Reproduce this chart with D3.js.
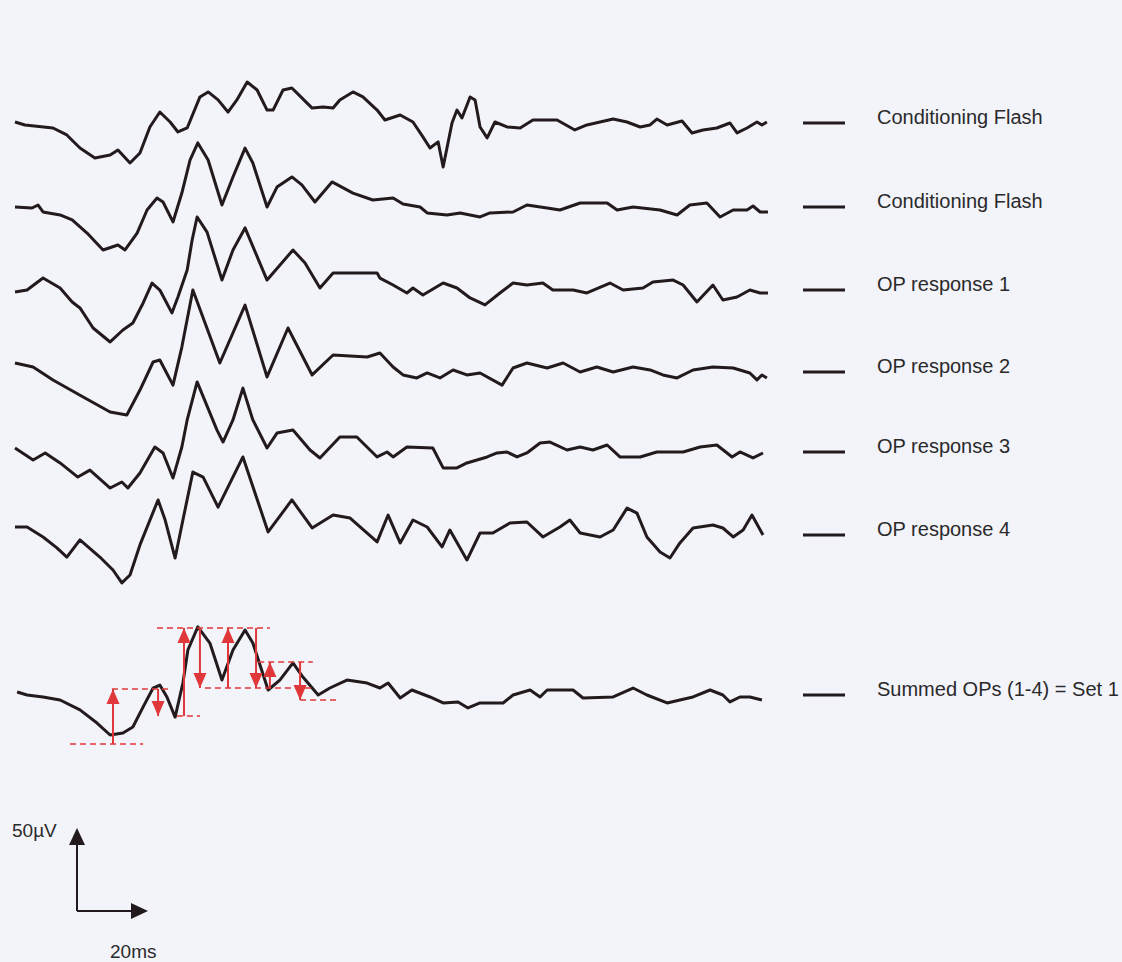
<!DOCTYPE html>
<html>
<head>
<meta charset="utf-8">
<script src="https://cdn.jsdelivr.net/npm/d3@7"></script>
<style>
  html, body { margin: 0; padding: 0; background: #f3f3fa; }
  svg { display: block; }
</style>
</head>
<body>
<div id="chart"></div>
<script>
// traces: [time (ms), amplitude (µV)] relative to each row's baseline
const condFlash1 = [
  [0, 0], [2.8, -1.8], [10.7, -3.6], [14.6, -7.8], [18.3, -15.7], [22.5, -21.7], [26.8, -19.9],
  [29.0, -16.9], [32.4, -24.7], [35.2, -18.7], [38.0, -3.0], [40.8, 6.0], [43.7, 0], [45.9, -6.0],
  [48.5, -3.6], [52.1, 15.1], [54.4, 18.1], [57.2, 13.3], [60.0, 6.0], [62.5, 13.3], [65.4, 24.1],
  [68.2, 19.3], [71.0, 7.2], [72.7, 7.2], [75.5, 19.3], [78.0, 20.5], [80.8, 14.5], [83.7, 8.4],
  [86.8, 9.0], [89.6, 8.4], [91.5, 13.3], [95.2, 18.1], [98.0, 15.1], [102.0, 7.2], [104.2, 1.2],
  [108.5, 4.2], [112.1, 0], [114.9, -9.0], [116.9, -15.7], [119.2, -12.0], [120.6, -27.1],
  [123.1, -0.6], [124.5, 7.2], [125.9, 2.4], [128.2, 15.1], [129.6, 13.3], [131.0, -3.0],
  [133.0, -9.6], [135.2, 0], [138.6, -3.0], [142.3, -3.6], [145.9, 1.2], [152.7, 1.2],
  [157.7, -4.8], [161.1, -1.8], [164.8, 0], [168.5, 1.8], [172.4, 0], [176.1, -3.0], [178.9, -1.8],
  [180.8, 1.8], [183.7, -1.8], [187.9, 0.6], [190.7, -6.6], [193.8, -4.8], [197.7, -3.6],
  [201.4, -0.6], [203.4, -6.6], [206.2, -3.6], [209.0, 0], [210.4, -1.8], [211.8, 0]
];
const condFlash2 = [
  [0, 0], [4.8, -0.6], [6.5, 1.2], [7.9, -3.0], [12.7, -4.8], [16.1, -7.8], [20.3, -15.7],
  [24.8, -25.9], [29.0, -22.9], [31.0, -25.9], [34.4, -15.7], [37.2, -1.8], [40.0, 5.4],
  [41.7, 3.0], [44.5, -9.0], [47.0, 8.4], [49.3, 28.3], [51.5, 38.6], [54.4, 28.3], [58.3, 1.2],
  [61.4, 18.1], [64.8, 35.5], [67.0, 26.5], [71.0, 0], [73.8, 12.0], [78.0, 18.1], [80.8, 13.3],
  [84.5, 3.0], [89.3, 15.1], [95.2, 8.4], [100.8, 4.2], [106.5, 5.4], [109.3, 1.8], [114.1, 0],
  [116.1, -3.6], [121.7, -4.8], [125.4, -3.6], [131.0, -6.0], [133.8, -3.6], [140.3, -3.0],
  [144.2, 1.2], [149.9, -0.6], [153.5, -1.8], [159.2, 2.4], [166.8, 2.4], [169.6, -1.8],
  [174.1, 0], [181.7, -1.8], [186.5, -4.8], [190.1, 1.2], [194.9, 2.4], [198.6, -6.0],
  [202.3, -1.8], [206.2, -1.8], [207.9, 0.6], [209.9, -3.0], [212.1, -3.0]
];
const opResponse1 = [
  [0, 0], [3.4, 1.2], [7.9, 8.4], [12.7, 2.4], [16.1, -6.0], [18.3, -9.6], [22.0, -21.7],
  [26.8, -30.1], [30.4, -22.9], [33.2, -18.7], [36.1, -6.6], [38.6, 5.4], [40.8, 1.2],
  [44.2, -12.6], [45.9, -3.0], [48.5, 13.3], [49.9, 31.3], [51.3, 45.2], [54.1, 36.1], [58.3, 7.2],
  [61.4, 25.3], [64.8, 38.6], [71.0, 7.2], [78.3, 25.3], [81.7, 17.5], [85.9, 2.4], [89.6, 11.4],
  [96.3, 11.4], [102.0, 11.4], [102.8, 8.4], [106.5, 4.2], [110.4, -0.6], [112.1, 2.4],
  [114.9, -1.8], [120.6, 5.4], [124.5, 2.4], [128.2, -3.6], [132.4, -7.8], [136.6, -0.6],
  [140.3, 5.4], [144.2, 4.2], [148.7, 5.4], [151.5, 1.2], [157.2, 1.2], [161.1, -0.6],
  [167.6, 5.4], [171.3, 1.2], [176.9, 2.4], [179.7, 6.0], [185.4, 7.2], [188.2, 4.2],
  [192.1, -6.0], [196.6, 4.2], [199.4, -4.8], [203.4, -3.0], [207.0, 1.2], [209.9, -0.6], [212.1, -0.6]
];
const opResponse2 = [
  [0, 0], [5.1, -2.4], [10.7, -10.2], [19.2, -20.5], [26.8, -29.5], [31.5, -31.3], [35.2, -16.3],
  [38.9, 0.6], [40.8, 1.8], [44.5, -13.3], [47.0, 9.6], [50.1, 44.0], [57.7, 0], [64.8, 34.9],
  [71.0, -8.4], [76.9, 21.1], [83.7, -7.2], [89.6, 4.8], [99.2, 3.6], [102.8, 6.0], [106.5, -2.4],
  [109.3, -7.2], [113.2, -9.0], [116.1, -6.0], [119.7, -9.0], [123.4, -4.2], [127.3, -7.2],
  [131.0, -6.0], [137.2, -13.3], [140.3, -3.0], [144.2, 0], [149.9, -3.0], [154.4, 0],
  [159.2, -5.4], [163.9, -2.4], [168.5, -5.4], [174.1, -2.4], [178.9, -4.2], [182.5, -7.2],
  [186.5, -9.0], [191.0, -4.2], [196.6, -2.4], [202.3, -3.0], [207.0, -6.0], [209.0, -10.2],
  [210.4, -7.2], [211.8, -9.0]
];
const opResponse3 = [
  [0, 0], [5.1, -7.2], [8.5, -3.0], [12.7, -9.0], [17.7, -17.5], [21.1, -13.3], [26.8, -24.1],
  [30.1, -20.5], [31.8, -24.1], [35.2, -15.1], [39.4, 0.6], [41.7, -3.0], [44.5, -18.1],
  [47.0, 0.6], [48.5, 16.9], [51.3, 39.8], [56.9, 10.8], [58.6, 3.6], [61.4, 16.9], [64.2, 36.1],
  [67.0, 16.9], [71.0, 0], [73.8, 9.0], [78.3, 10.8], [83.1, -1.2], [85.9, -6.0], [91.5, 6.6],
  [96.3, 6.6], [102.0, -5.4], [104.8, -2.4], [106.5, -5.4], [110.4, 0.6], [117.7, 0],
  [120.6, -12.0], [124.5, -12.0], [127.3, -9.0], [133.0, -5.4], [135.8, -3.0], [138.6, -2.4],
  [141.4, -5.4], [144.2, -3.0], [147.9, 3.0], [150.7, 3.6], [155.5, -1.2], [159.2, 0.6],
  [162.8, -1.2], [166.8, 1.8], [170.4, -5.4], [176.1, -5.4], [180.8, -2.4], [188.2, -2.4],
  [193.0, 0.6], [197.7, 1.8], [202.0, -5.4], [204.2, -2.4], [207.9, -6.0], [210.7, -3.0]
];
const opResponse4 = [
  [0, 0], [3.4, 0], [7.9, -6.0], [11.8, -12.6], [14.6, -18.1], [18.3, -7.8], [23.9, -18.1],
  [27.6, -25.9], [30.1, -33.7], [32.4, -28.9], [35.2, -10.8], [40.3, 16.3], [42.3, 4.2],
  [45.1, -18.7], [47.3, 4.2], [50.1, 33.1], [53.0, 30.0], [57.2, 12.0], [64.2, 42.2], [71.3, -3.0],
  [78.0, 16.3], [83.7, -0.6], [89.6, 7.2], [94.4, 5.4], [102.0, -9.0], [105.1, 7.2], [108.5, -9.6],
  [112.1, 4.2], [116.1, 0], [120.3, -12.0], [122.5, -1.8], [127.3, -19.9], [131.0, -3.6],
  [134.6, -3.6], [139.4, 2.4], [144.2, 3.0], [148.7, -6.0], [153.5, 0], [156.3, 4.2],
  [159.2, -3.6], [164.8, -6.0], [168.5, -1.8], [172.4, 11.4], [175.2, 8.4], [178.0, -6.0],
  [181.7, -15.1], [184.5, -18.7], [187.3, -9.6], [191.0, -0.6], [196.6, 1.2], [199.4, -0.6],
  [202.3, -6.0], [205.1, -1.8], [207.6, 7.2], [210.7, -4.8]
];
const summedOPs = [
  [0.6, 0], [3.4, -1.8], [7.9, -3.0], [12.7, -4.8], [18.3, -10.8], [23.1, -18.7], [26.8, -25.9],
  [30.4, -24.7], [33.2, -21.1], [36.1, -9.0], [38.9, 2.4], [40.8, 4.2], [42.8, -3.0],
  [45.1, -15.1], [47.3, 5.4], [48.7, 25.3], [51.5, 39.2], [54.9, 29.5], [58.3, 7.2], [61.4, 25.3],
  [64.8, 37.3], [67.0, 29.5], [71.3, 1.2], [74.6, 7.2], [78.3, 17.5], [81.1, 9.0], [85.4, -1.8],
  [88.7, 2.4], [93.5, 7.2], [99.2, 5.4], [102.8, 2.4], [105.1, 5.4], [108.5, -3.6], [111.8, 1.2],
  [116.9, -3.0], [120.6, -6.6], [124.8, -6.0], [127.6, -9.6], [131.0, -6.6], [137.5, -6.6],
  [140.3, -1.8], [145.1, 1.2], [147.9, -3.0], [149.9, 1.2], [157.2, 1.2], [160.0, -3.6],
  [168.5, -3.0], [174.1, 2.4], [178.0, -1.8], [183.7, -6.6], [187.3, -4.8], [191.0, -3.0],
  [195.8, 1.2], [199.4, -1.8], [201.4, -6.0], [204.2, -3.0], [207.0, -3.0], [210.4, -4.8]
];

const traceNames = ["Conditioning Flash", "Conditioning Flash", "OP response 1", "OP response 2",
                    "OP response 3", "OP response 4", "Summed OPs (1-4) = Set 1"];
const traces = [condFlash1, condFlash2, opResponse1, opResponse2, opResponse3, opResponse4, summedOPs];

// peak-to-trough measurements on the summed trace: [time ms, from µV, to µV]
const ampArrows = [
  [27.6, -31.3, 1.8], [40.3, 1.8, -14.5], [47.6, -14.5, 38.6], [52.1, 38.6, 2.4],
  [60.0, 2.4, 38.6], [67.9, 38.6, 2.4], [71.8, 2.4, 18.1], [80.3, 18.1, -4.8]
];
// dashed reference levels: [start ms, end ms, µV]
const refLevels = [
  [15.5, 36.1, -31.3], [27.3, 44.2, 1.8], [45.6, 52.1, -14.5], [40.0, 71.8, 38.6],
  [53.5, 83.9, 2.4], [68.5, 83.9, 18.1], [80.3, 91.5, -4.8]
];
const scaleBar = { amp: 50, time: 20, ampLabel: "50µV", timeLabel: "20ms" };

// layout
const W = 1122, H = 962;
const rowBase = [122, 207, 292, 363, 448, 527, 692];
const legendY = [123, 207, 290, 372, 452, 535, 695];
const ink = "#221a1c";
const red = "#e0383a";

const svg = d3.select("#chart").append("svg")
  .attr("width", W).attr("height", H);

svg.append("rect").attr("width", W).attr("height", H).attr("fill", "#f3f3fa");

// 20 ms = 71 px, 50 µV = 83 px (taken from the scale bar)
const x = d3.scaleLinear().domain([0, 20]).range([15, 86]);
const amp = d3.scaleLinear().domain([0, 50]).range([0, 83]);

const line = base => d3.line()
  .x(d => x(d[0]))
  .y(d => base - amp(d[1]));

const traceG = svg.append("g");
traces.forEach((tr, i) => {
  traceG.append("path")
    .attr("d", line(rowBase[i])(tr))
    .attr("fill", "none")
    .attr("stroke", ink)
    .attr("stroke-width", 3)
    .attr("stroke-linejoin", "round");
});

// legend
const leg = svg.append("g");
traceNames.forEach((name, i) => {
  leg.append("line")
    .attr("x1", 803).attr("x2", 845)
    .attr("y1", legendY[i]).attr("y2", legendY[i])
    .attr("stroke", ink).attr("stroke-width", 3);
  leg.append("text")
    .attr("x", 877).attr("y", legendY[i] - 4)
    .attr("dominant-baseline", "middle")
    .attr("font-family", "Liberation Sans, Arial, sans-serif")
    .attr("font-size", 20)
    .attr("fill", "#2a2a2a")
    .text(name);
});

// red measurement markers on the summed trace
const sumBase = rowBase[6];
const ann = svg.append("g");
refLevels.forEach(([t0, t1, v]) => {
  ann.append("line")
    .attr("x1", x(t0)).attr("x2", x(t1))
    .attr("y1", sumBase - amp(v)).attr("y2", sumBase - amp(v))
    .attr("stroke", red).attr("stroke-width", 1.5)
    .attr("stroke-dasharray", "6,4");
});
ampArrows.forEach(([t, v0, v1]) => {
  const px = x(t), y0 = sumBase - amp(v0), y1 = sumBase - amp(v1);
  const dir = y1 < y0 ? -1 : 1;  // -1 points up
  ann.append("line")
    .attr("x1", px).attr("x2", px)
    .attr("y1", y0).attr("y2", y1)
    .attr("stroke", red).attr("stroke-width", 2);
  const tip = y1, back = y1 - dir * 15;
  ann.append("path")
    .attr("d", `M${px},${tip} L${px - 6.5},${back} L${px + 6.5},${back} Z`)
    .attr("fill", red);
});

// scale bar
const sb = svg.append("g");
const ox = 77, oy = 911;
const vTop = oy - amp(scaleBar.amp);
const hEnd = ox + (x(scaleBar.time) - x(0));
sb.append("line").attr("x1", ox).attr("x2", ox).attr("y1", oy).attr("y2", vTop + 14)
  .attr("stroke", ink).attr("stroke-width", 2);
sb.append("path").attr("d", `M${ox},${vTop} L${ox - 8},${vTop + 17} L${ox + 8},${vTop + 17} Z`).attr("fill", ink);
sb.append("line").attr("x1", ox).attr("x2", hEnd - 14).attr("y1", oy).attr("y2", oy)
  .attr("stroke", ink).attr("stroke-width", 2);
sb.append("path").attr("d", `M${hEnd},${oy} L${hEnd - 17},${oy - 8} L${hEnd - 17},${oy + 8} Z`).attr("fill", ink);
sb.append("text").attr("x", 12).attr("y", 837)
  .attr("font-family", "Liberation Sans, Arial, sans-serif").attr("font-size", 19)
  .attr("fill", "#2a2a2a").text(scaleBar.ampLabel);
sb.append("text").attr("x", 110).attr("y", 958)
  .attr("font-family", "Liberation Sans, Arial, sans-serif").attr("font-size", 19)
  .attr("fill", "#2a2a2a").text(scaleBar.timeLabel);
</script>
</body>
</html>
